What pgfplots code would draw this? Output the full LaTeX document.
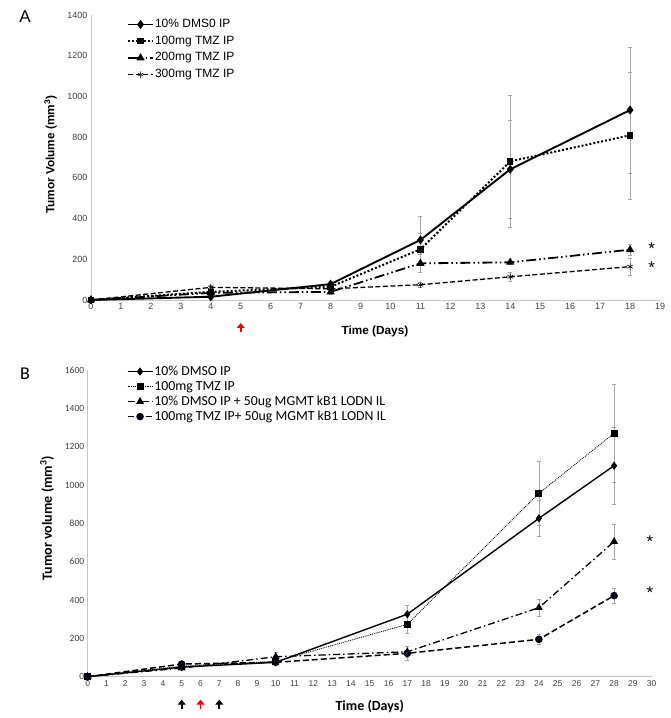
\documentclass[border=0pt]{standalone}
\usepackage{fontspec}
\setmainfont{Liberation Sans}
\newfontfamily\calibri{Carlito}
\usepackage{pgfplots}
\pgfplotsset{compat=1.18}
\usetikzlibrary{arrows.meta}
\tikzset{uparrow/.style={line width=1.8pt, -{Triangle[width=8pt,length=5pt]}}}

\pgfplotsset{
  excel/.style={
    scale only axis, clip=false,
    axis x line*=bottom, axis y line*=left,
    axis line style={draw=gray!45, line width=0.8pt, -},
    major tick length=0pt,
    tick label style={text=black!75},
    /pgf/number format/assume math mode=true,
    /pgf/number format/1000 sep={},
    scaled ticks=false,
    legend cell align=left,
    legend style={draw=none, fill=none, inner sep=0pt, row sep=0pt},
    legend image code/.code={\draw[mark repeat=2,mark phase=2] plot coordinates {(0pt,0pt) (12.5pt,0pt) (25pt,0pt)};},
  },
  eb/.style={error bars/.cd, y dir=both, y explicit,
    error bar style={gray!70, line width=0.5pt, solid},
    error mark options={rotate=90, gray!70, mark size=2pt, solid, line width=0.5pt}},
}

\begin{document}
\begin{tikzpicture}
\path[use as bounding box] (0pt,0pt) rectangle (670pt,718pt);
\node[font=\fontsize{17}{17}\selectfont] at (25pt,701pt) {A};
\node[font=\calibri\fontsize{18}{18}\selectfont] at (25pt,344pt) {B};

% panel A
\begin{axis}[excel,
  at={(91pt,418pt)}, anchor=south west, width=569pt, height=285pt,
  xmin=0, xmax=19, ymin=0, ymax=1400,
  xtick={0,1,...,19}, ytick={0,200,...,1400},
  tick label style={font=\fontsize{9}{10}\selectfont},
  xlabel={\bfseries Time (Days)}, ylabel={\bfseries Tumor Volume (mm\textsuperscript{3})},
  label style={font=\fontsize{11.8}{13}\selectfont},
  xlabel style={at={(axis description cs:0.499,-0.109)}, anchor=center},
  ylabel style={at={(axis description cs:-0.071,0.509)}, anchor=center},
  legend style={at={(axis description cs:0.063,0.992)}, anchor=north west, font=\fontsize{12}{13}\selectfont,
    nodes={inner sep=1pt, text height=9pt, text depth=3pt}, row sep=2.7pt},
]
\addplot[black, line width=1.9pt, mark=diamond*, mark size=3pt, mark options={solid}, eb] coordinates {
  (0,0) +- (0,0) (4,16) +- (0,10) (8,78) +- (0,15) (11,295) +- (0,117) (14,642) +- (0,240) (18,933) +- (0,311)};
\addplot[black, line width=2pt, dotted, mark=square*, mark size=2.2pt, mark options={solid}, eb] coordinates {
  (0,0) +- (0,0) (4,40) +- (0,10) (8,65) +- (0,10) (11,249) +- (0,80) (14,681) +- (0,326) (18,809) +- (0,312)};
\addplot[black, line width=1.8pt, dash pattern=on 10pt off 3pt on 1.5pt off 3pt on 1.5pt off 3pt, mark=triangle*, mark size=3pt, mark options={solid}, eb] coordinates {
  (0,0) +- (0,0) (4,35) +- (0,10) (8,40) +- (0,10) (11,180) +- (0,45) (14,185) +- (0,10) (18,247) +- (0,28)};
\addplot[black, line width=1.3pt, dash pattern=on 5pt off 2.5pt, mark=asterisk, mark size=3.2pt, mark options={solid, line width=0.6pt}, eb] coordinates {
  (0,0) +- (0,0) (4,62) +- (0,10) (8,55) +- (0,10) (11,75) +- (0,10) (14,114) +- (0,20) (18,164) +- (0,40)};
\legend{10\% DMS0 IP, 100mg TMZ IP, 200mg TMZ IP, 300mg TMZ IP}
\node[font=\fontsize{17}{17}\selectfont] at (axis cs:18.72,254) {*};
\node[font=\fontsize{17}{17}\selectfont] at (axis cs:18.72,161) {*};
\draw[red, uparrow] ([yshift=-32pt]axis cs:5,0) -- ([yshift=-23pt]axis cs:5,0);
\end{axis}

% panel B
\begin{axis}[excel,
  at={(87.7pt,41.3pt)}, anchor=south west, width=564pt, height=306.7pt,
  xmin=0, xmax=30, ymin=0, ymax=1600,
  xtick={0,1,...,30}, ytick={0,200,...,1600},
  xticklabel style={font=\fontsize{8.5}{10}\selectfont},
  yticklabel style={font=\calibri\fontsize{9.5}{10}\selectfont},
  xlabel={\bfseries Time (Days)}, ylabel={\bfseries Tumor volume (mm\textsuperscript{3})},
  label style={font=\calibri\fontsize{14}{15}\selectfont},
  xlabel style={at={(axis description cs:0.50,-0.098)}, anchor=center},
  ylabel style={at={(axis description cs:-0.072,0.517)}, anchor=center},
  legend style={at={(axis description cs:0.069,1.02)}, anchor=north west, font=\calibri\fontsize{13.8}{15}\selectfont,
    nodes={inner sep=1pt, text height=10pt, text depth=3pt}, row sep=0pt},
]
\addplot[black, line width=1.4pt, mark=diamond*, mark size=3pt, mark options={solid}, eb] coordinates {
  (0,0) +- (0,0) (5,50) +- (0,5) (10,75) +- (0,10) (17,326) +- (0,48) (24,826) +- (0,92) (28,1101) +- (0,200)};
\addplot[black, line width=0.9pt, densely dotted, mark=square*, mark size=3pt, mark options={solid}, eb] coordinates {
  (0,0) +- (0,0) (5,55) +- (0,5) (10,80) +- (0,10) (17,273) +- (0,47) (24,957) +- (0,168) (28,1270) +- (0,255)};
\addplot[black, line width=1.3pt, dash pattern=on 7pt off 3pt on 1.5pt off 3pt, mark=triangle*, mark size=3.3pt, mark options={solid}, eb] coordinates {
  (0,0) +- (0,0) (5,45) +- (0,8) (10,104) +- (0,25) (17,130) +- (0,30) (24,360) +- (0,45) (28,705) +- (0,90)};
\addplot[black, line width=1.5pt, dash pattern=on 6pt off 3pt, mark=*, mark size=3pt, mark options={solid, fill=black!85!blue}, eb] coordinates {
  (0,0) +- (0,0) (5,66) +- (0,8) (10,75) +- (0,10) (17,122) +- (0,35) (24,195) +- (0,25) (28,423) +- (0,40)};
\legend{10\% DMSO IP, 100mg TMZ IP, 10\% DMSO IP + 50ug MGMT kB1 LODN IL, 100mg TMZ IP+ 50ug MGMT kB1 LODN IL}
\node[font=\fontsize{17}{17}\selectfont] at (axis cs:29.9,703) {*};
\node[font=\fontsize{17}{17}\selectfont] at (axis cs:29.9,438) {*};
\draw[black, uparrow] ([yshift=-32pt]axis cs:5,0) -- ([yshift=-23pt]axis cs:5,0);
\draw[red, uparrow] ([yshift=-32pt]axis cs:6,0) -- ([yshift=-23pt]axis cs:6,0);
\draw[black, uparrow] ([yshift=-32pt]axis cs:7,0) -- ([yshift=-23pt]axis cs:7,0);
\end{axis}
\end{tikzpicture}
\end{document}
